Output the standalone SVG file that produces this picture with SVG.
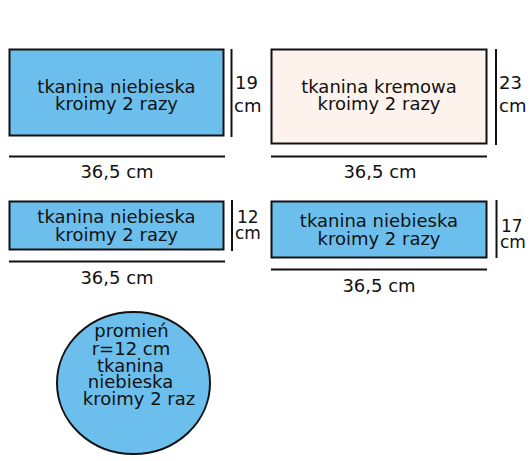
<svg xmlns="http://www.w3.org/2000/svg" width="532" height="461" viewBox="0 0 532 461">
<style>
.blue{fill:#6cbfec;stroke:#111;stroke-width:2}
.cream{fill:#fdf3ec;stroke:#111;stroke-width:2}
.ln{stroke:#111;stroke-width:2;fill:none}
text{font-family:"DejaVu Sans",Verdana,sans-serif;font-size:18px;fill:#111}
.c{text-anchor:middle}
.s{font-size:17px}
</style>
<rect width="532" height="461" fill="#fff"/>
<g id="piece1">
<rect class="blue" x="9.5" y="49.5" width="214" height="86"/>
<text class="c" x="116.5" y="93">tkanina niebieska</text>
<text class="c" x="116.5" y="110">kroimy 2 razy</text>
</g>
<g id="piece2">
<rect class="cream" x="271.5" y="49.5" width="215" height="94"/>
<text class="c" x="379" y="93">tkanina kremowa</text>
<text class="c" x="379" y="110">kroimy 2 razy</text>
</g>
<g id="piece3">
<rect class="blue" x="9.5" y="201.5" width="214" height="48"/>
<text class="c" x="116.5" y="223">tkanina niebieska</text>
<text class="c" x="116.5" y="241">kroimy 2 razy</text>
</g>
<g id="piece4">
<rect class="blue" x="271.5" y="201.5" width="215" height="56"/>
<text class="c" x="379" y="227">tkanina niebieska</text>
<text class="c" x="379" y="245">kroimy 2 razy</text>
</g>
<g id="circle">
<ellipse class="blue" cx="133.5" cy="383" rx="76.5" ry="71"/>
<text class="c" x="131.5" y="337">promień</text>
<text class="c" x="131" y="354.5">r=12 cm</text>
<text class="c" x="130.5" y="371.5">tkanina</text>
<text class="c" x="130.5" y="388">niebieska</text>
<text class="c" x="139" y="405">kroimy 2 raz</text>
</g>
<g id="dimensions">
<line class="ln" x1="231.5" y1="49" x2="231.5" y2="137"/>
<line class="ln" x1="9" y1="156.5" x2="225" y2="156.5"/>
<line class="ln" x1="496" y1="49" x2="496" y2="145"/>
<line class="ln" x1="271" y1="156.5" x2="487" y2="156.5"/>
<line class="ln" x1="232" y1="200" x2="232" y2="251"/>
<line class="ln" x1="9" y1="261.5" x2="225" y2="261.5"/>
<line class="ln" x1="496.5" y1="200" x2="496.5" y2="258"/>
<line class="ln" x1="271" y1="269.5" x2="487" y2="269.5"/>
</g>
<g id="labels">
<text x="235" y="89">19</text>
<text x="234" y="112">cm</text>
<text class="c" x="117" y="178">36,5 cm</text>
<text x="499" y="89">23</text>
<text x="499" y="112">cm</text>
<text class="c" x="380" y="178">36,5 cm</text>
<text class="s" x="237" y="223">12</text>
<text class="s" x="235" y="239">cm</text>
<text class="c" x="117" y="284">36,5 cm</text>
<text class="s" x="501" y="232">17</text>
<text class="s" x="500" y="248">cm</text>
<text class="c" x="379" y="292">36,5 cm</text>
</g>
</svg>
